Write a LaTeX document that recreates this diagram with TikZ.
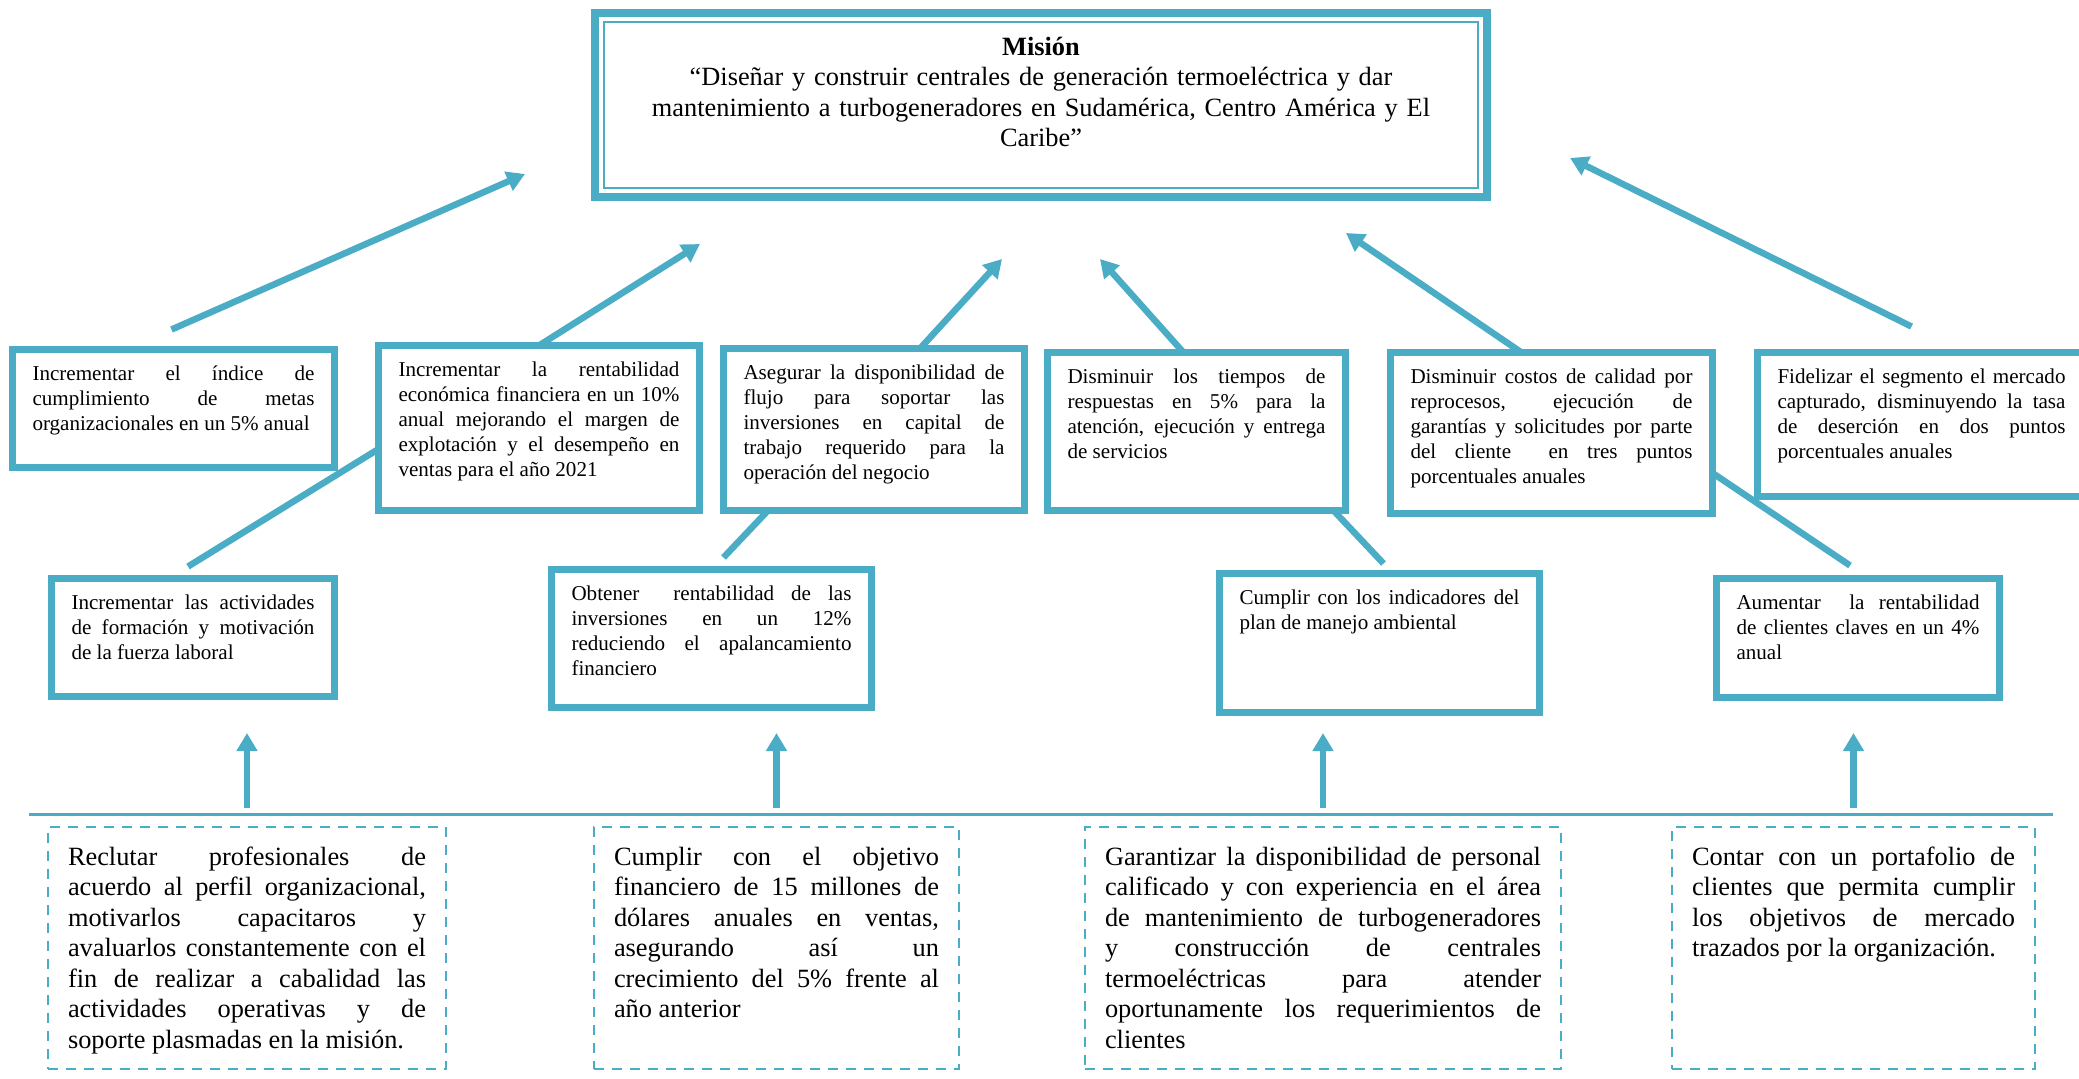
\documentclass[tikz,border=0pt]{standalone}
\usepackage{fontspec}
\setmainfont{Liberation Serif}
\usetikzlibrary{arrows.meta,calc,backgrounds}
\definecolor{mblue}{RGB}{75,172,198}
\hyphenpenalty=10000
\exhyphenpenalty=10000

\begin{document}
\begin{tikzpicture}[x=0.1mm, y=-0.1mm,
  every node/.style={outer sep=0pt},
  mis/.style={draw=mblue, line width=0.8mm, fill=white, anchor=north west,
              text width=85mm, align=center, inner xsep=2.1mm, inner ysep=2.3mm,
              text height=1.9mm, text depth=11.9mm, font=\fontsize{7.5}{8.7}\selectfont},
  obj/.style={draw=mblue, line width=0.65mm, fill=white, anchor=north west,
              align=justify, inner xsep=2mm, inner ysep=1.6mm, text height=1.5mm,
              font=\fontsize{6}{7.1}\selectfont},
  act/.style={draw=mblue, line width=0.27mm, dash pattern=on 1mm off 0.8mm,
              anchor=north west, align=justify, inner xsep=2mm, inner ysep=1.9mm,
              text height=1.9mm, text depth=18.5mm, font=\fontsize{7.5}{8.7}\selectfont},
  arr/.style={mblue, line width=0.65mm, -{Triangle[length=1.8mm, width=2mm]}},
  lnk/.style={mblue, line width=0.65mm},
  sep/.style={mblue, line width=0.3mm}]

\useasboundingbox (0,0) rectangle (2079,1078);

%% --- Mission ---
\node[mis] (MIS) at (595,13) {\textbf{Misión}\\“Diseñar y construir centrales de generación termoeléctrica y dar\\mantenimiento a turbogeneradores en Sudamérica, Centro América y El\\Caribe”};
\draw[mblue, line width=0.2mm] ($(MIS.north west)+(9,9)$) rectangle ($(MIS.south east)+(-9,-9)$);

%% --- Objectives, first row ---
\node[obj, text width=28.2mm, text depth=7.1mm]  (B1) at (12.5,349.5)  {Incrementar el índice de\linebreak cumplimiento de metas\linebreak organizacionales en un 5\% anual};
\node[obj, text width=28.1mm, text depth=11.8mm] (B2) at (378.5,345.5) {Incrementar la rentabilidad\linebreak económica financiera en un 10\%\linebreak anual mejorando el margen de\linebreak explotación y el desempeño en\linebreak ventas para el año 2021};
\node[obj, text width=26.1mm, text depth=11.5mm] (B3) at (723.5,348.5) {Asegurar la disponibilidad de\linebreak flujo para soportar las\linebreak inversiones en capital de\linebreak trabajo requerido para la\linebreak operación del negocio};
\node[obj, text width=25.8mm, text depth=11.1mm] (B4) at (1047.5,352.5) {Disminuir los tiempos de\linebreak respuestas en 5\% para la\linebreak atención, ejecución y entrega\linebreak de servicios};
\node[obj, text width=28.2mm, text depth=11.4mm] (B5) at (1390.5,352.5) {Disminuir costos de calidad por\linebreak reprocesos, ejecución de\linebreak garantías y solicitudes por parte\linebreak del cliente \ en tres puntos\linebreak porcentuales anuales};
\node[obj, text width=28.8mm, text depth=9.7mm]  (B6) at (1757.5,352.5) {Fidelizar el segmento el mercado\linebreak capturado, disminuyendo la tasa\linebreak de deserción en dos puntos\linebreak porcentuales anuales};

%% --- Objectives, second row ---
\node[obj, text width=24.3mm, text depth=7.1mm]  (C1) at (51.5,578.5)   {Incrementar las actividades\linebreak de formación y motivación\linebreak de la fuerza laboral};
\node[obj, text width=28mm, text depth=9.1mm]    (C2) at (551.5,569.5)  {Obtener \ rentabilidad de las\linebreak inversiones en un 12\%\linebreak reduciendo el apalancamiento\linebreak financiero};
\node[obj, text width=28mm, text depth=9.2mm]    (C3) at (1219.5,573.5) {Cumplir con los indicadores del\linebreak plan de manejo ambiental};
\node[obj, text width=24.3mm, text depth=7.2mm]  (C4) at (1716.5,578.5) {Aumentar \ la rentabilidad\linebreak de clientes claves en un 4\%\linebreak anual};

%% --- Divider ---
\draw[sep] (29,814) -- (2053,814);

%% --- Actions (dashed) ---
\node[act, text width=35.8mm] (D1) at (48,827)   {Reclutar profesionales de\linebreak acuerdo al perfil organizacional,\linebreak motivarlos capacitaros y\linebreak avaluarlos constantemente con el\linebreak fin de realizar a cabalidad las\linebreak actividades operativas y de\linebreak soporte plasmadas en la misión.};
\node[act, text width=32.5mm] (D2) at (594,827)  {Cumplir con el objetivo\linebreak financiero de 15 millones de\linebreak dólares anuales en ventas,\linebreak asegurando así un\linebreak crecimiento del 5\% frente al\linebreak año anterior};
\node[act, text width=43.6mm] (D3) at (1085,827) {Garantizar la disponibilidad de personal\linebreak calificado y con experiencia en el área\linebreak de mantenimiento de turbogeneradores\linebreak y construcción de centrales\linebreak termoeléctricas para atender\linebreak oportunamente los requerimientos de\linebreak clientes};
\node[act, text width=32.3mm] (D4) at (1672,827) {Contar con un portafolio de\linebreak clientes que permita cumplir\linebreak los objetivos de mercado\linebreak trazados por la organización.};

%% --- Arrow targets near the mission ---
\coordinate (m1) at (525,174);
\coordinate (m2) at (700,244);
\coordinate (m3) at (1002,259);
\coordinate (m4) at (1100,259);
\coordinate (m5) at (1346,233);
\coordinate (m6) at (1570,158);

\begin{scope}[on background layer]
  %% --- Arrows: first row -> mission ---
  \draw[arr] ($(B1.north)+(-2,-20)$) -- (m1);
  \draw[arr] (B2.north)              -- (m2);
  \draw[arr] ($(B3.north)+(46,0)$)   -- (m3);
  \draw[arr] ($(B4.north)+(-13,0)$)  -- (m4);
  \draw[arr] ($(B5.north)+(-30,0)$)  -- (m5);
  \draw[arr] ($(B6.north)+(-10,-26)$) -- (m6);

  %% --- Links: second row -> first row ---
  \draw[lnk] ($(C1.north)+(-5,-12)$)  -- ($(B2.west)+(0,21)$);
  \draw[lnk] ($(C2.north)+(12,-12)$)  -- ($(B3.south)+(-106,0)$);
  \draw[lnk] ($(C3.north)+(4,-10)$)   -- ($(B4.south)+(137,0)$);
  \draw[lnk] ($(C4.north)+(-8,-13)$)  -- ($(B5.east)+(0,40)$);
\end{scope}

%% --- Arrows: actions -> second row ---
\foreach \d in {D1,D2,D3,D4}
  \draw[arr] ($(\d.north)+(0,-19)$) -- ($(\d.north)+(0,-94)$);

\end{tikzpicture}
\end{document}
